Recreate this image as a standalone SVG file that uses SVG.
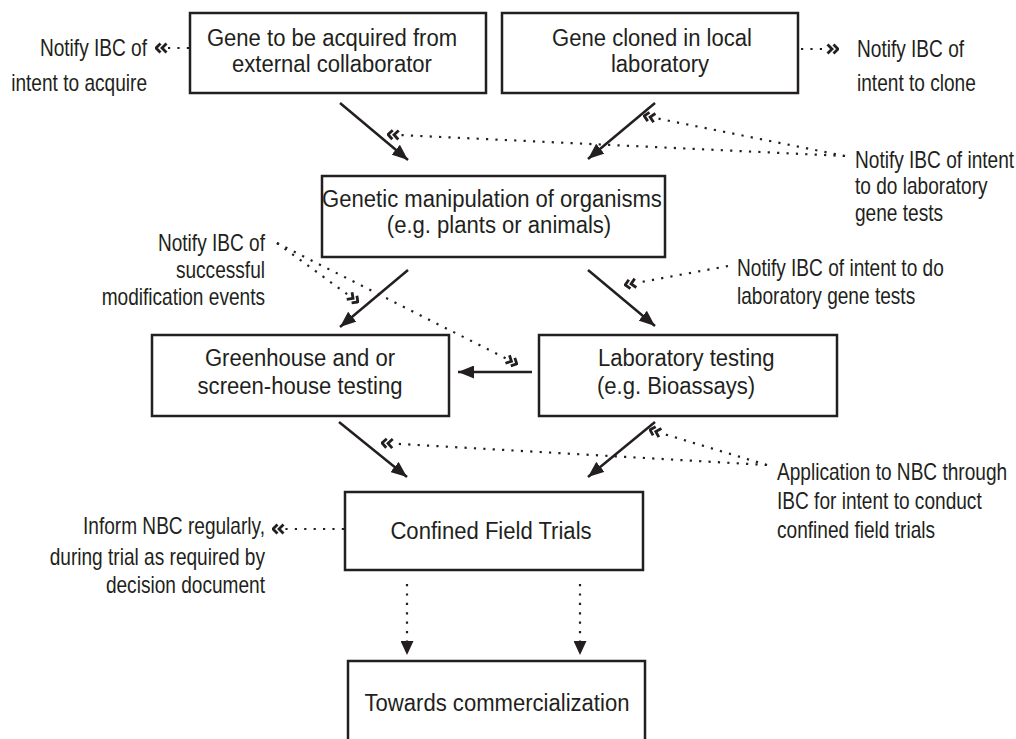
<svg xmlns="http://www.w3.org/2000/svg" width="1016" height="739" viewBox="0 0 1016 739">
<defs>
<style>
.box{fill:#fff;stroke:#231f20;stroke-width:2.5}
.bt{font-family:"Liberation Sans",Arial,sans-serif;font-size:23px;fill:#231f20}
.lt{font-family:"Liberation Sans",Arial,sans-serif;font-size:23px;fill:#231f20}
.m{text-anchor:middle}
.e{text-anchor:end}
.solid{stroke:#231f20;stroke-width:2.5;fill:none;marker-end:url(#ah)}
.dot{stroke:#231f20;stroke-width:2.2;stroke-dasharray:2.2 7.2;fill:none}
.dch{marker-end:url(#ch)}
.dah{marker-end:url(#ah2)}
</style>
<marker id="ah" viewBox="0 0 16 13" refX="16" refY="6.5" markerWidth="16" markerHeight="13" markerUnits="userSpaceOnUse" orient="auto">
<path d="M0,0 L16,6.5 L0,13 z" fill="#231f20"/>
</marker>
<marker id="ah2" viewBox="0 0 14 13" refX="14" refY="6.5" markerWidth="14" markerHeight="13" markerUnits="userSpaceOnUse" orient="auto">
<path d="M0,0 L14,6.5 L0,13 z" fill="#231f20"/>
</marker>
<marker id="ch" viewBox="-1 -6 13 12" refX="0" refY="0" markerWidth="13" markerHeight="12" markerUnits="userSpaceOnUse" orient="auto">
<path d="M0.5,-4.5 L5,0 L0.5,4.5 M6.5,-4.5 L11,0 L6.5,4.5" fill="none" stroke="#231f20" stroke-width="2.8"/>
</marker>
</defs>
<rect width="1016" height="739" fill="#fff"/>

<g id="n1">
<rect class="box" x="190" y="13" width="296" height="80"/>
<text class="bt m" transform="translate(332,46) scale(0.96,1)">Gene to be acquired from</text>
<text class="bt m" transform="translate(332,72) scale(0.96,1)">external collaborator</text>
</g>
<g id="n2">
<rect class="box" x="502" y="13" width="296" height="80"/>
<text class="bt m" transform="translate(652,46) scale(0.96,1)">Gene cloned in local</text>
<text class="bt m" transform="translate(660,72) scale(0.96,1)">laboratory</text>
</g>
<g id="n3">
<rect class="box" x="322" y="176" width="343" height="81"/>
<text class="bt m" transform="translate(492,207) scale(0.96,1)">Genetic manipulation of organisms</text>
<text class="bt m" transform="translate(499,233) scale(0.96,1)">(e.g. plants or animals)</text>
</g>
<g id="n4">
<rect class="box" x="152" y="335" width="297" height="81"/>
<text class="bt m" transform="translate(300,366) scale(0.96,1)">Greenhouse and or</text>
<text class="bt m" transform="translate(300,394) scale(0.96,1)">screen-house testing</text>
</g>
<g id="n5">
<rect class="box" x="539" y="335" width="298" height="81"/>
<text class="bt" transform="translate(598,366) scale(0.96,1)">Laboratory testing</text>
<text class="bt" transform="translate(597,394) scale(0.96,1)">(e.g. Bioassays)</text>
</g>
<g id="n6">
<rect class="box" x="345" y="492" width="298" height="78"/>
<text class="bt m" transform="translate(491,539) scale(0.96,1)">Confined Field Trials</text>
</g>
<g id="n7">
<rect class="box" x="348" y="661" width="297" height="100"/>
<text class="bt m" transform="translate(497,711) scale(0.96,1)">Towards commercialization</text>
</g>

<g id="l1">
<text class="lt e" transform="translate(147,56) scale(0.83,1)">Notify IBC of</text>
<text class="lt e" transform="translate(147,91) scale(0.83,1)">intent to acquire</text>
</g>
<g id="l2">
<text class="lt" transform="translate(857,57) scale(0.83,1)">Notify IBC of</text>
<text class="lt" transform="translate(857,91) scale(0.83,1)">intent to clone</text>
</g>
<g id="l3">
<text class="lt" transform="translate(855,168) scale(0.83,1)">Notify IBC of intent</text>
<text class="lt" transform="translate(855,194) scale(0.83,1)">to do laboratory</text>
<text class="lt" transform="translate(855,221) scale(0.83,1)">gene tests</text>
</g>
<g id="l4">
<text class="lt e" transform="translate(265,251) scale(0.83,1)">Notify IBC of</text>
<text class="lt e" transform="translate(265,278) scale(0.83,1)">successful</text>
<text class="lt e" transform="translate(265,305) scale(0.83,1)">modification events</text>
</g>
<g id="l5">
<text class="lt" transform="translate(737,276) scale(0.83,1)">Notify IBC of intent to do</text>
<text class="lt" transform="translate(737,304) scale(0.83,1)">laboratory gene tests</text>
</g>
<g id="l6">
<text class="lt" transform="translate(777,480) scale(0.83,1)">Application to NBC through</text>
<text class="lt" transform="translate(777,509) scale(0.83,1)">IBC for intent to conduct</text>
<text class="lt" transform="translate(777,538) scale(0.83,1)">confined field trials</text>
</g>
<g id="l7">
<text class="lt e" transform="translate(265,534) scale(0.83,1)">Inform NBC regularly,</text>
<text class="lt e" transform="translate(265,565) scale(0.83,1)">during trial as required by</text>
<text class="lt e" transform="translate(265,593) scale(0.83,1)">decision document</text>
</g>

<g id="connectors">
<path class="solid" d="M340,103 L408,160"/>
<path class="solid" d="M655,103 L588,159"/>
<path class="solid" d="M408,270 L340,327"/>
<path class="solid" d="M588,270 L655,326"/>
<path class="solid" d="M532,372 L458,372"/>
<path class="solid" d="M339,422 L407,477"/>
<path class="solid" d="M655,422 L588,477"/>
<path class="dot dah" d="M407,584 L407,655"/>
<path class="dot dah" d="M580,584 L580,655"/>
<path class="dot dch" d="M189,48 L167,48"/>
<path class="dot dch" d="M801,49 L827,49"/>
<path class="dot dch" d="M845,156 L655,118"/>
<path class="dot dch" d="M845,156 L399,135"/>
<path class="dot dch" d="M277,243 L349,295.5"/>
<path class="dot dch" d="M277,243 L507,359"/>
<path class="dot dch" d="M728,266 L636,283"/>
<path class="dot dch" d="M767,465 L660.6,433"/>
<path class="dot dch" d="M767,465 L393,443.6"/>
<path class="dot dch" d="M344,529 L284,529"/>
</g>
</svg>
